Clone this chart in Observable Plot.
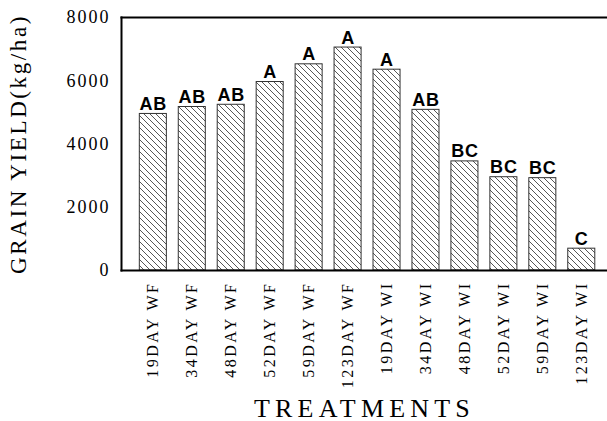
<!DOCTYPE html>
<html>
<head>
<meta charset="utf-8">
<script src="https://cdn.jsdelivr.net/npm/d3@7"></script>
<script src="https://cdn.jsdelivr.net/npm/@observablehq/plot@0.6"></script>
<style>
  html, body { margin: 0; padding: 0; background: #fff; }
</style>
</head>
<body>
<div id="chart"></div>
<script>
const treatments = ["19DAY WF", "34DAY WF", "48DAY WF", "52DAY WF", "59DAY WF", "123DAY WF",
                    "19DAY WI", "34DAY WI", "48DAY WI", "52DAY WI", "59DAY WI", "123DAY WI"];
const yields = [4950, 5170, 5240, 5960, 6520, 7050, 6350, 5080, 3450, 2950, 2920, 690];
const letters = ["AB", "AB", "AB", "A", "A", "A", "A", "AB", "BC", "BC", "BC", "C"];
const yTicks = [0, 2000, 4000, 6000, 8000];

const data = treatments.map((t, i) => ({treatment: t, yield: yields[i], letter: letters[i]}));

const chart = Plot.plot({
  width: 607,
  height: 421,
  marginTop: 17,
  marginBottom: 151,
  marginLeft: 121,
  marginRight: 0,
  style: {fontFamily: "Liberation Serif", background: "#fff", color: "#000"},
  x: {domain: treatments, paddingInner: 0.306, paddingOuter: 0.392, align: 0.6, round: false},
  y: {domain: [0, 8000]},
  marks: [
    Plot.barY(data, {x: "treatment", y: "yield", fill: "url(#hatch)", stroke: "#333", strokeWidth: 1}),
    Plot.text(data, {x: "treatment", y: "yield", text: "letter", lineAnchor: "bottom", dy: -4,
      fontFamily: "Liberation Sans", fontWeight: "bold", fontSize: 18, fill: "#000"}),
    Plot.frame({anchor: "top", strokeWidth: 2}),
    Plot.frame({anchor: "left", strokeWidth: 2}),
    Plot.frame({anchor: "bottom", strokeWidth: 2}),
    Plot.axisY({ticks: yTicks, tickSize: 0, tickPadding: 11, tickFormat: d => String(d), fontSize: 18,
      label: "GRAIN YIELD(kg/ha)", labelAnchor: "center", labelArrow: "none", labelOffset: 112}),
    Plot.axisX({tickSize: 0, tickPadding: 11, tickRotate: -90, fontSize: 16,
      label: "TREATMENTS", labelAnchor: "center", labelArrow: "none", labelOffset: 146})
  ]
});

const svg = d3.select(chart);
const defs = svg.insert("defs", ":first-child");
const pat = defs.append("pattern").attr("id", "hatch").attr("patternUnits", "userSpaceOnUse")
  .attr("width", 6).attr("height", 6);
pat.append("rect").attr("width", 6).attr("height", 6).attr("fill", "#fff");
pat.append("path").attr("d", "M-1,-1 L7,7 M5,-1 L7,1 M-1,5 L1,7")
  .attr("stroke", "#444").attr("stroke-width", 0.9);

function styleText(match, styles) {
  svg.selectAll("text").filter(function() { return match(this.textContent); })
    .each(function() { for (const k in styles) this.style.setProperty(k, styles[k]); });
}
styleText(t => yTicks.map(String).includes(t), {"font-size": "18px", "letter-spacing": "2px"});
styleText(t => treatments.includes(t), {"font-size": "16px", "letter-spacing": "2.5px"});
styleText(t => t === "TREATMENTS", {"font-size": "26px", "letter-spacing": "5.2px"});
styleText(t => t === "GRAIN YIELD(kg/ha)", {"font-size": "23px", "letter-spacing": "2.6px"});
styleText(t => letters.includes(t), {"letter-spacing": "0.8px"});

document.getElementById("chart").appendChild(chart);
</script>
</body>
</html>
